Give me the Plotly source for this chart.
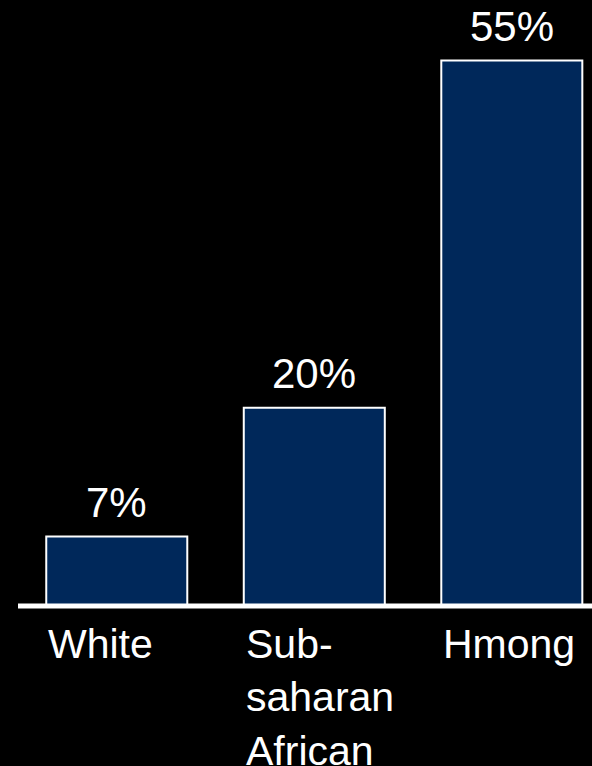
import plotly.graph_objects as go

# Share of each group (percent)
categories = ["White", "Sub-saharan African", "Hmong"]
category_labels = ["White", "Sub-<br>saharan<br>African", "Hmong"]
values = [7, 20, 55]
value_labels = ["7%", "20%", "55%"]

BAR_WIDTH = 0.714
NAVY = "#00285a"
FONT = "Arial, Liberation Sans, sans-serif"

x_idx = list(range(len(categories)))

fig = go.Figure(
    go.Bar(
        x=x_idx,
        y=values,
        width=BAR_WIDTH,
        marker=dict(color=NAVY, line=dict(color="white", width=2)),
        hoverinfo="skip",
    )
)

annotations = []
for i, (v, lab) in enumerate(zip(values, value_labels)):
    annotations.append(dict(
        x=i, y=v, xref="x", yref="y", text=lab, showarrow=False,
        xanchor="center", yanchor="bottom", yshift=9,
        font=dict(family=FONT, size=42, color="white"),
    ))
for i, lab in enumerate(category_labels):
    annotations.append(dict(
        x=i - BAR_WIDTH / 2, y=0, xref="x", yref="y", text=lab, showarrow=False,
        xanchor="left", yanchor="top", align="left", yshift=-13,
        font=dict(family=FONT, size=41, color="white"),
    ))

fig.update_layout(
    width=592, height=766,
    margin=dict(l=18, r=0, t=0, b=155),
    paper_bgcolor="black", plot_bgcolor="black",
    showlegend=False,
    xaxis=dict(range=[-0.5, 2.406], showticklabels=False, showgrid=False,
               zeroline=False, showline=False, fixedrange=True),
    yaxis=dict(range=[-0.5, 61.1], showticklabels=False, showgrid=False,
               zeroline=False, showline=False, fixedrange=True),
    shapes=[dict(type="line", xref="paper", yref="y", x0=0, x1=1, y0=0, y1=0,
                 line=dict(color="white", width=5), layer="above")],
    annotations=annotations,
)

fig.write_html("out.html")
